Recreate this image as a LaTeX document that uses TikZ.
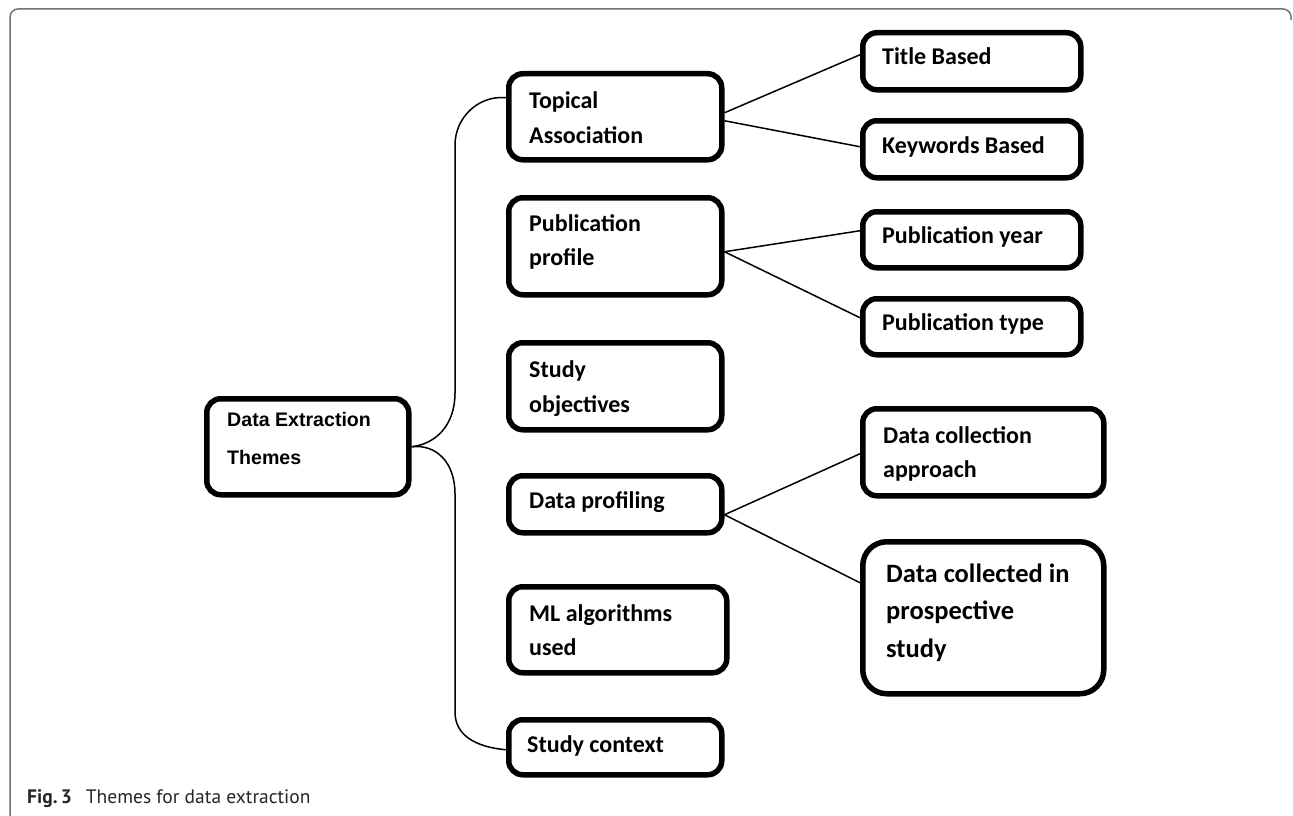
\documentclass[tikz,border=0pt]{standalone}
\usepackage{fontspec}
\newfontfamily\calib{Carlito}
\newfontfamily\arialf{Liberation Sans}
\newfontfamily\capf{PT Sans}
\begin{document}
\begin{tikzpicture}[x=1pt,y=-1pt,
  box/.style={draw=black, line width=5.5pt, rounded corners=14pt, inner sep=0pt, anchor=north west, fill=white},
  bigbox/.style={box, rounded corners=24pt},
  txt/.style={inner sep=0pt, anchor=base west, font=\calib\bfseries\fontsize{24}{28}\selectfont},
  bigtxt/.style={txt, font=\calib\bfseries\fontsize{26.5}{30}\selectfont},
  dettxt/.style={inner sep=0pt, anchor=base west, font=\arialf\bfseries\fontsize{19.6}{23}\selectfont},
  conn/.style={draw=black, line width=1.5pt},
  frame/.style={draw=black!55, line width=1.5pt, rounded corners=8pt}
]
\useasboundingbox (0,0) rectangle (1293,816);
\fill[white] (0,0) rectangle (1293,816);
% frame
\draw[frame] (10,816) -- (10,9) -- (1291,9) -- (1291,20);

% boxes
\node[box, minimum width=202pt, minimum height=96pt] (det) at (204,396) {};
\node[box, minimum width=213pt, minimum height=86pt] (ta) at (506,71) {};
\node[box, minimum width=213pt, minimum height=97pt] (pp) at (506,195) {};
\node[box, minimum width=213pt, minimum height=87pt] (so) at (506,340) {};
\node[box, minimum width=213pt, minimum height=57pt] (dp) at (506,473) {};
\node[box, minimum width=218pt, minimum height=86pt] (ml) at (506,584) {};
\node[box, minimum width=213pt, minimum height=55pt] (sc) at (506,717) {};
\node[box, minimum width=218pt, minimum height=57pt] (tb) at (860,30) {};
\node[box, minimum width=218pt, minimum height=57pt] (kb) at (860,118) {};
\node[box, minimum width=218pt, minimum height=56pt] (py) at (860,209) {};
\node[box, minimum width=218pt, minimum height=56pt] (pt) at (860,296) {};
\node[box, minimum width=241pt, minimum height=87pt] (dca) at (860,406) {};
\node[bigbox, minimum width=241pt, minimum height=152pt] (dcp) at (860,539) {};

% texts
\node[dettxt] (det-1) at (227,426) {Data Extraction};
\node[dettxt] (det-2) at (227,464) {Themes};
\node[txt] (ta-1) at (529,108) {Topical};
\node[txt] (ta-2) at (529,143) {Association};
\node[txt] (pp-1) at (529,231) {Publication};
\node[txt] (pp-2) at (529,265) {profile};
\node[txt] (so-1) at (529,377) {Study};
\node[txt] (so-2) at (529,412) {objectives};
\node[txt] (dp-1) at (529,508) {Data profiling};
\node[txt] (ml-1) at (529,621) {ML algorithms};
\node[txt] (ml-2) at (529,655) {used};
\node[txt] (sc-1) at (527,752) {Study context};
\node[txt] (tb-1) at (882,65) {Title Based};
\node[txt] (kb-1) at (882,153) {Keywords Based};
\node[txt] (py-1) at (882,243) {Publication year};
\node[txt] (pt-1) at (882,330) {Publication type};
\node[txt] (dca-1) at (883,443) {Data collection};
\node[txt] (dca-2) at (883,477) {approach};
\node[bigtxt] (dcp-1) at (886,582) {Data collected in};
\node[bigtxt] (dcp-2) at (886,619) {prospective};
\node[bigtxt] (dcp-3) at (886,657) {study};

% connectors
\draw[conn] ([yshift=4pt]ta.east) -- ([yshift=6.5pt]tb.west);
\draw[conn] ([yshift=-4pt]ta.east) -- ([yshift=2.5pt]kb.west);
\draw[conn] ([yshift=-5.5pt]pp.east) -- ([yshift=9pt]py.west);
\draw[conn] ([yshift=-5.5pt]pp.east) -- ([yshift=9pt]pt.west);
\draw[conn] ([yshift=-10.5pt]dp.east) -- ([yshift=-1.5pt]dca.west);
\draw[conn] ([yshift=-10.5pt]dp.east) -- ([yshift=35pt]dcp.west);

% brace
\draw[conn] ([yshift=19pt]ta.west) .. controls (478,95) and (455,118) .. (455,145)
  -- (455,393) .. controls (455,425) and (436,444) .. (det.east);
\draw[conn] (det.east) .. controls (436,444) and (455,462) .. (455,494)
  -- (455,712) .. controls (455,735) and (475,747) .. ([yshift=-2.5pt]sc.west);

% caption
\node[inner sep=0pt, anchor=base west, text=black!85, font=\capf\fontsize{19.5}{23}\selectfont] (cap) at (27,803) {{\bfseries Fig.\,3}\hspace{14pt}Themes for data extraction};
\end{tikzpicture}
\end{document}
